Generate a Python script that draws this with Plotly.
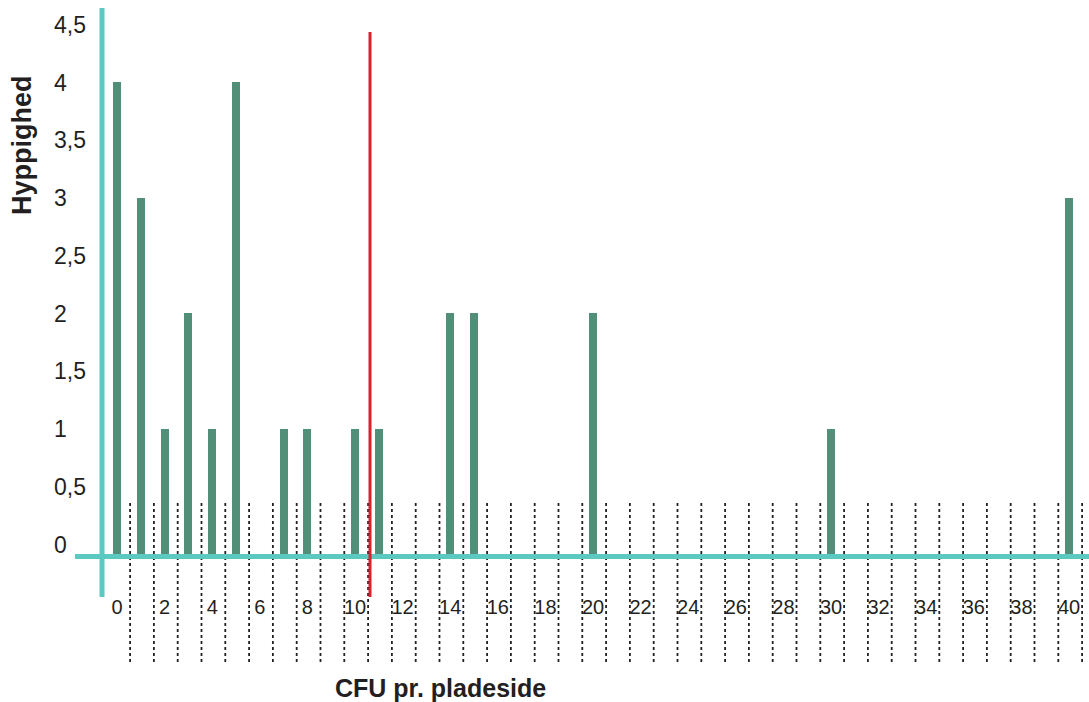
import plotly.graph_objects as go

# ---- data ----
cfu = [0, 1, 2, 3, 4, 5, 7, 8, 10, 11, 14, 15, 20, 30, 40]
freq = [4, 3, 1, 2, 1, 4, 1, 1, 1, 1, 2, 2, 2, 1, 3]
x_ticks = list(range(0, 41, 2))
y_ticks = [0, 0.5, 1, 1.5, 2, 2.5, 3, 3.5, 4, 4.5]
y_tick_labels = ["0", "0,5", "1", "1,5", "2", "2,5", "3", "3,5", "4", "4,5"]
cutoff = 10.63          # red marker line
dividers = [k + 0.55 for k in range(41)]

# ---- style ----
W, H = 1089, 702
BAR = "#528f78"
TEAL = "#5bc8c2"
RED = "#d8232e"
BASE = -0.09            # bars start on the drawn axis line
AXIS_Y = -0.104
X_RANGE = [-4.916, 40.84]
Y_RANGE = [-1.3636, 4.714]

fig = go.Figure()
fig.add_trace(go.Bar(
    x=cfu, y=[v - BASE for v in freq], base=BASE,
    width=0.34, marker=dict(color=BAR, line=dict(width=0)),
    hoverinfo="skip", showlegend=False,
))

shapes = []
for d in dividers:
    shapes.append(dict(type="line", xref="x", yref="y", x0=d, x1=d, y0=0.359, y1=-1.017,
                       line=dict(color="#222222", width=1.8, dash="dot"), layer="below"))
# horizontal teal axis line
shapes.append(dict(type="line", xref="x", yref="y", x0=-1.765, x1=X_RANGE[1], y0=AXIS_Y, y1=AXIS_Y,
                   line=dict(color=TEAL, width=5), layer="above"))
# vertical teal axis line
shapes.append(dict(type="line", xref="x", yref="y", x0=-0.63, x1=-0.63, y0=-0.4545, y1=4.645,
                   line=dict(color=TEAL, width=5), layer="above"))
# red cutoff line
shapes.append(dict(type="line", xref="x", yref="y", x0=cutoff, x1=cutoff, y0=-0.4545, y1=4.437,
                   line=dict(color=RED, width=3), layer="above"))

fig.update_layout(
    width=W, height=H,
    margin=dict(l=0, r=0, t=0, b=0),
    paper_bgcolor="white", plot_bgcolor="white",
    font=dict(family="Liberation Sans, Arial, sans-serif", color="#231f20"),
    shapes=shapes,
    bargap=0,
    xaxis=dict(range=X_RANGE, showgrid=False, zeroline=False, showline=False,
               tickmode="array", tickvals=x_ticks, ticktext=[str(t) for t in x_ticks],
               ticks="", tickfont=dict(size=20, color="#231f20"),
               anchor="free", position=1 - 593 / H, fixedrange=True),
    yaxis=dict(range=Y_RANGE, showgrid=False, zeroline=False, showline=False,
               tickmode="array", tickvals=y_ticks, ticktext=y_tick_labels,
               ticks="", tickfont=dict(size=23, color="#231f20"),
               side="right", anchor="free", position=53 / W, fixedrange=True),
    annotations=[
        dict(text="<b>CFU pr. pladeside</b>", xref="paper", yref="paper",
             x=440 / W, y=1 - 688 / H, xanchor="center", yanchor="middle", showarrow=False,
             font=dict(size=25, color="#231f20")),
        dict(text="<b>Hyppighed</b>", xref="paper", yref="paper",
             x=22 / W, y=1 - 145 / H, xanchor="center", yanchor="middle", showarrow=False,
             textangle=-90, font=dict(size=27, color="#231f20")),
    ],
)

fig.write_html("out.html", config={"displayModeBar": False},
               post_script="document.body.style.margin='0px';document.body.style.overflow='hidden';")
